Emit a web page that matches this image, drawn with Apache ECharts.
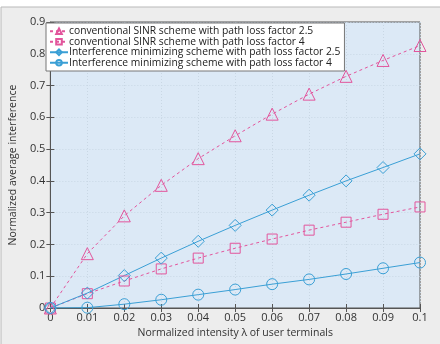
<!DOCTYPE html>
<html>
<head>
<meta charset="utf-8">
<script src="https://cdn.jsdelivr.net/npm/echarts@6/dist/echarts.min.js"></script>
<style>
  html, body { margin: 0; padding: 0; background: #fff; }
  #chart { width: 440px; height: 344px; }
</style>
</head>
<body>
<div id="chart"></div>
<script>
// x values (normalized intensity)
const lambdas = [0, 0.01, 0.02, 0.03, 0.04, 0.05, 0.06, 0.07, 0.08, 0.09, 0.1];

const sinr25 = [0, 0.171, 0.29, 0.386, 0.47, 0.542, 0.61, 0.673, 0.729, 0.779, 0.826];
const sinr4  = [0, 0.045, 0.085, 0.123, 0.157, 0.188, 0.217, 0.245, 0.27, 0.295, 0.318];
const im25   = [0, 0.047, 0.102, 0.157, 0.21, 0.26, 0.308, 0.355, 0.4, 0.442, 0.485];
const im4    = [0, 0.001, 0.012, 0.026, 0.042, 0.058, 0.075, 0.09, 0.107, 0.125, 0.143];

const names = [
  'conventional SINR scheme with path loss factor 2.5',
  'conventional SINR scheme with path loss factor 4',
  'Interference minimizing scheme with path loss factor 2.5',
  'Interference minimizing scheme with path loss factor 4'
];

const pink = '#e2559c';
const blue = '#3a9fd5';
const font = 'Open Sans';

function pairs(ys) {
  return lambdas.map((x, i) => [x, ys[i]]);
}

function mkSeries(name, ys, color, symbol, size, dashed) {
  return {
    name: name,
    type: 'line',
    data: pairs(ys),
    symbol: symbol,
    symbolSize: size,
    color: color,
    lineStyle: { color: color, width: 1, type: dashed ? [3, 3] : 'solid' },
    itemStyle: { color: 'rgba(0,0,0,0)', borderColor: color, borderWidth: 1 },
    emphasis: { disabled: true },
    z: 3
  };
}

const chart = echarts.init(document.getElementById('chart'));
const option = {
  backgroundColor: '#fff',
  animation: false,
  textStyle: { fontFamily: font },
  graphic: [{
    type: 'rect',
    shape: { x: 1, y: 7, width: 440, height: 340 },
    style: { fill: '#ededed', stroke: '#b9b9b9', lineWidth: 1 },
    z: -10
  }],
  grid: {
    left: 45, right: 20, top: 22, bottom: 33,
    show: true,
    backgroundColor: '#dce9f6',
    borderColor: '#555',
    borderWidth: 1
  },
  legend: {
    left: 46, top: 23,
    orient: 'vertical',
    itemGap: 0,
    itemWidth: 18,
    itemHeight: 7,
    padding: [3, 4, 3, 3],
    backgroundColor: '#fff',
    borderColor: '#777',
    borderWidth: 1,
    borderRadius: 0,
    textStyle: { fontFamily: font, fontSize: 10.3, lineHeight: 10.5, color: '#222', padding: [0, 0, 0, -4] },
    data: names
  },
  xAxis: [{
    type: 'value',
    min: 0, max: 0.1, interval: 0.01,
    name: 'Normalized intensity λ of user terminals',
    nameLocation: 'middle',
    nameGap: 20,
    nameTextStyle: { fontFamily: font, fontSize: 10.5, color: '#333' },
    axisLine: { lineStyle: { color: '#555' } },
    axisTick: { inside: true, length: 4, lineStyle: { color: '#555' } },
    axisLabel: { fontFamily: font, fontSize: 11, color: '#333', margin: 4,
      formatter: v => String(Number(v.toFixed(2))) },
    splitLine: { show: true, lineStyle: { color: '#c9d7e4', type: [1, 2] } }
  }, {
    type: 'value', position: 'top',
    min: 0, max: 0.1, interval: 0.01,
    axisLine: { show: false },
    axisTick: { inside: true, length: 4, lineStyle: { color: '#555' } },
    axisLabel: { show: false },
    splitLine: { show: false }
  }],
  yAxis: [{
    type: 'value',
    min: 0, max: 0.9, interval: 0.1,
    name: 'Normalized average interference',
    nameLocation: 'middle',
    nameGap: 30,
    nameTextStyle: { fontFamily: font, fontSize: 10.5, color: '#333' },
    axisLine: { show: true, lineStyle: { color: '#555' } },
    axisTick: { show: true, inside: true, length: 4, lineStyle: { color: '#555' } },
    axisLabel: { fontFamily: font, fontSize: 11, color: '#333', margin: 5,
      formatter: v => String(Number(v.toFixed(1))) },
    splitLine: { show: true, lineStyle: { color: '#c9d7e4', type: [1, 2] } }
  }, {
    type: 'value', position: 'right',
    min: 0, max: 0.9, interval: 0.1,
    axisLine: { show: false },
    axisTick: { show: true, inside: true, length: 4, lineStyle: { color: '#555' } },
    axisLabel: { show: false },
    splitLine: { show: false }
  }],
  series: [
    mkSeries(names[0], sinr25, pink, 'triangle', 12, true),
    mkSeries(names[1], sinr4, pink, 'rect', 10, true),
    mkSeries(names[2], im25, blue, 'diamond', 12, false),
    mkSeries(names[3], im4, blue, 'circle', 11, false)
  ]
};
chart.setOption(option);
</script>
</body>
</html>
